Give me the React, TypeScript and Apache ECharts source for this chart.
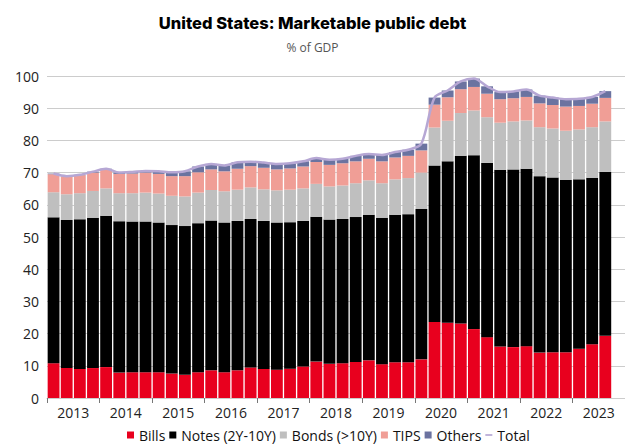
import React, { useEffect, useRef } from "react";
import * as echarts from "echarts";

const years = ["2013", "2014", "2015", "2016", "2017", "2018", "2019", "2020", "2021", "2022", "2023"];

const bills = [10.8, 9.3, 9.0, 9.3, 9.6, 7.9, 8.0, 8.0, 8.0, 7.6, 7.2, 8.0, 8.6, 8.0, 8.6, 9.5, 9.0, 8.8, 9.1, 9.8, 11.3, 10.6, 10.8, 11.2, 11.7, 10.5, 11.1, 11.1, 12.0, 23.6, 23.4, 23.1, 21.4, 18.9, 16.0, 15.8, 16.1, 14.1, 14.2, 14.2, 15.3, 16.7, 19.3];
const notes = [45.3, 46.0, 46.5, 46.7, 47.0, 47.0, 46.8, 46.8, 46.5, 46.1, 46.2, 46.3, 46.5, 46.5, 46.4, 46.1, 46.0, 45.7, 45.5, 45.2, 45.0, 44.8, 44.8, 45.0, 45.2, 45.5, 45.8, 46.0, 46.7, 48.6, 50.1, 52.1, 54.0, 54.1, 54.9, 55.2, 55.1, 54.8, 54.3, 53.5, 52.6, 51.7, 50.9];
const bonds = [7.8, 8.0, 8.1, 8.3, 8.5, 8.7, 8.8, 9.0, 9.0, 9.1, 9.2, 9.5, 9.5, 9.7, 9.7, 9.8, 9.8, 10.0, 10.1, 10.1, 10.2, 10.3, 10.4, 10.5, 10.7, 10.7, 11.0, 11.2, 11.3, 11.8, 12.6, 13.3, 13.9, 14.2, 14.6, 14.9, 15.0, 15.2, 15.2, 15.3, 15.5, 15.7, 15.7];
const tips = [5.6, 5.5, 5.6, 5.7, 5.8, 6.0, 6.1, 6.2, 6.1, 6.1, 6.3, 6.3, 6.4, 6.2, 6.5, 6.6, 6.7, 6.5, 6.6, 6.8, 6.8, 6.7, 6.9, 6.8, 6.7, 6.8, 6.8, 6.9, 6.9, 7.1, 7.3, 7.4, 7.3, 7.3, 7.3, 7.2, 7.3, 7.4, 7.3, 7.5, 7.3, 7.3, 7.3];
const others = [0.2, 0.1, 0.1, 0.3, 0.3, 0.4, 0.5, 0.5, 0.8, 1.2, 1.5, 1.8, 1.7, 1.8, 2.0, 1.4, 1.6, 1.7, 1.6, 1.6, 1.2, 1.6, 1.4, 1.7, 1.5, 2.0, 1.7, 1.9, 2.1, 2.2, 2.1, 2.4, 2.6, 2.3, 2.2, 2.1, 2.3, 2.4, 2.3, 2.3, 2.2, 2.1, 2.1];
const total = [69.7, 68.9, 69.3, 70.3, 71.2, 70.0, 70.2, 70.5, 70.4, 70.1, 70.4, 71.9, 72.7, 72.2, 73.2, 73.4, 73.1, 72.7, 72.9, 73.5, 74.5, 74.0, 74.3, 75.2, 75.8, 75.5, 76.4, 77.1, 79.0, 93.3, 95.5, 98.3, 99.2, 96.8, 95.0, 95.2, 95.8, 93.9, 93.3, 92.8, 92.9, 93.5, 95.3];

const seriesNames = ["Bills", "Notes (2Y-10Y)", "Bonds (>10Y)", "TIPS", "Others", "Total"];
const colors = ["#e8001e", "#000000", "#bfbfbf", "#f09e96", "#6b73a0", "#b6a7d4"];

const quarters: string[] = [];
years.forEach((y) => ["Q1", "Q2", "Q3", "Q4"].forEach((q) => quarters.push(y + q)));

const labelSlots: string[] = [];
for (let i = 0; i <= quarters.length; i++) labelSlots.push(i % 4 === 2 ? years[(i - 2) / 4] : "");

const FONT = "'Open Sans', 'Noto Sans', sans-serif";

export default function App() {
  const ref = useRef<HTMLDivElement>(null);
  useEffect(() => {
    if (!ref.current) return;
    const chart = echarts.init(ref.current, undefined, { renderer: "svg" });
    const barData = [bills, notes, bonds, tips, others];
    chart.setOption({
      animation: false,
      backgroundColor: "#ffffff",
      title: {
        text: "United States: Marketable public debt",
        subtext: "% of GDP",
        left: "center",
        top: 9,
        itemGap: 10,
        textStyle: { fontFamily: "Inter, 'DejaVu Sans', sans-serif", fontWeight: 800, fontSize: 16.5, color: "#000" },
        subtextStyle: { fontFamily: FONT, fontSize: 12, color: "#555" },
      },
      legend: {
        bottom: 1,
        left: 122,
        itemWidth: 7,
        itemHeight: 7,
        itemGap: 4,
        textStyle: { fontFamily: FONT, fontSize: 14, color: "#111" },
        data: seriesNames.map((n, i) => ({
          name: n,
          icon: i === 5 ? "path://M0,0 L10,0 L10,2.4 L0,2.4 Z" : "rect",
        })),
      },
      grid: { left: 47, right: -4, top: 76, bottom: 50 },
      xAxis: [
        {
          type: "category",
          data: quarters,
          boundaryGap: true,
          axisLine: { show: true, lineStyle: { color: "#cccccc", width: 1 } },
          axisTick: { show: true, interval: (i: number) => i % 4 === 0, length: 5, lineStyle: { color: "#777" } },
          axisLabel: { show: false },
          splitLine: { show: false },
        },
        {
          type: "category",
          data: labelSlots,
          boundaryGap: false,
          position: "bottom",
          axisLine: { show: false },
          axisTick: { show: false },
          axisLabel: {
            interval: (i: number) => i % 4 === 2,
            fontFamily: FONT,
            fontSize: 14,
            color: "#222",
            margin: 7,
          },
          splitLine: { show: false },
        },
      ],
      yAxis: {
        type: "value",
        min: 0,
        max: 100,
        interval: 10,
        axisLine: { show: false },
        axisTick: { show: false },
        axisLabel: { fontFamily: FONT, fontSize: 14, color: "#222", margin: 8 },
        splitLine: { lineStyle: { color: "#cccccc", width: 1 } },
      },
      series: [
        ...barData.map((d, i) => ({
          name: seriesNames[i],
          type: "bar",
          stack: "debt",
          data: d,
          xAxisIndex: 0,
          barCategoryGap: "10%",
          itemStyle: { color: colors[i] },
          emphasis: { disabled: true },
        })),
        {
          name: "Total",
          type: "line",
          data: total,
          xAxisIndex: 0,
          smooth: 0.3,
          symbol: "none",
          lineStyle: { color: colors[5], width: 2.5 },
          itemStyle: { color: colors[5] },
          z: 5,
        },
      ],
    });
    return () => chart.dispose();
  }, []);
  return <div ref={ref} style={{ position: "fixed", left: 0, top: 0, width: 625, height: 448 }} />;
}
